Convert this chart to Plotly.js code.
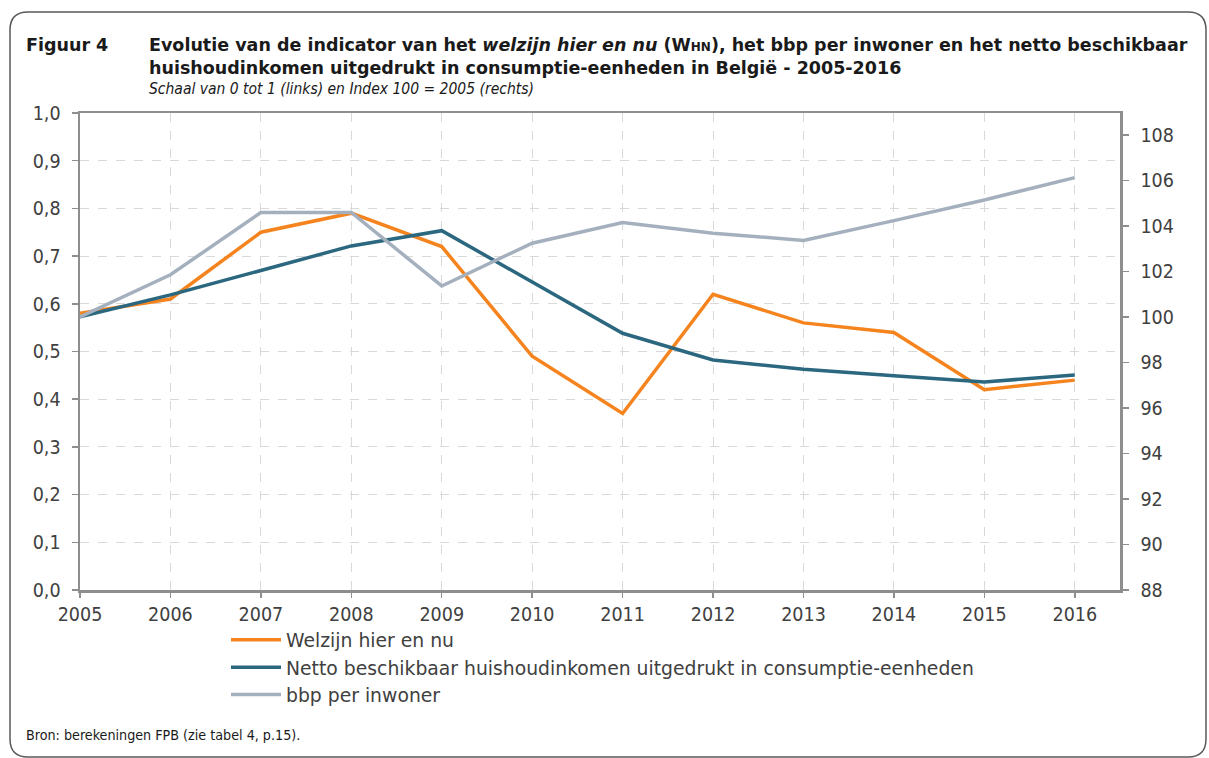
<!DOCTYPE html>
<html>
<head>
<meta charset="utf-8">
<script src="https://cdn.plot.ly/plotly-3.0.1.min.js"></script>
<style>html,body{margin:0;padding:0;background:#fff;}#chart{width:1209px;height:758px;}</style>
</head>
<body>
<div id="chart"></div>
<script>
// ---- data ----
const years = [2005, 2006, 2007, 2008, 2009, 2010, 2011, 2012, 2013, 2014, 2015, 2016];
const welzijn = [0.58, 0.61, 0.75, 0.79, 0.72, 0.49, 0.37, 0.62, 0.56, 0.54, 0.42, 0.44];
const inkomen = [100.0, 100.97, 102.04, 103.12, 103.79, 101.55, 99.28, 98.11, 97.70, 97.41, 97.14, 97.45];
const bbp = [100.0, 101.85, 104.59, 104.59, 101.36, 103.24, 104.15, 103.68, 103.36, 104.23, 105.14, 106.12];
const seriesNames = ["Welzijn hier en nu",
  "Netto beschikbaar huishoudinkomen uitgedrukt in consumptie-eenheden",
  "bbp per inwoner"];

// ---- layout helpers (pixel -> paper) ----
const W = 1209, H = 758;
const L = 80, R = 1120, T = 113, B = 590;
const px = x => (x - L) / (R - L);
const py = y => (B - y) / (B - T);

const condensed = "DejaVu Sans Condensed, DejaVu Sans, sans-serif";
const tahomaLike = "DejaVu Sans, sans-serif";

const traces = [
  {x: years, y: welzijn, name: seriesNames[0], type: "scatter", mode: "lines",
   line: {color: "#F5841F", width: 3.5}, yaxis: "y"},
  {x: years, y: inkomen, name: seriesNames[1], type: "scatter", mode: "lines",
   line: {color: "#2B6880", width: 3.5}, yaxis: "y2"},
  {x: years, y: bbp, name: seriesNames[2], type: "scatter", mode: "lines",
   line: {color: "#A5B0BF", width: 3.5}, yaxis: "y2"}
];

// rounded frame
const x0 = px(10), x1 = px(1206), y0 = py(12), y1 = py(757);
const rx = 18 / (R - L), ry = 18 / (B - T);
const framePath = `M ${x0 + rx},${y0} L ${x1 - rx},${y0} Q ${x1},${y0} ${x1},${y0 - ry} ` +
  `L ${x1},${y1 + ry} Q ${x1},${y1} ${x1 - rx},${y1} L ${x0 + rx},${y1} Q ${x0},${y1} ${x0},${y1 + ry} ` +
  `L ${x0},${y0 - ry} Q ${x0},${y0} ${x0 + rx},${y0} Z`;

const layout = {
  width: W, height: H,
  margin: {l: L, r: W - R, t: T, b: H - B, pad: 0},
  paper_bgcolor: "#ffffff", plot_bgcolor: "#ffffff",
  separators: ",.",
  showlegend: true,
  font: {family: condensed, color: "#404040"},
  xaxis: {
    range: [2005, 2016.5], tick0: 2005, dtick: 1, tickmode: "linear",
    showline: true, linecolor: "#8E8E8E", linewidth: 2.5, mirror: true,
    showgrid: true, gridcolor: "#D9D9D9", griddash: "dash", gridwidth: 1,
    ticks: "outside", ticklen: 5, tickcolor: "#8E8E8E", tickwidth: 1.5,
    tickfont: {family: condensed, size: 19.5, color: "#404040"},
    zeroline: false, fixedrange: true
  },
  yaxis: {
    range: [0, 1], tick0: 0, dtick: 0.1, tickmode: "linear", tickformat: ".1f",
    showline: true, linecolor: "#8E8E8E", linewidth: 2.5, mirror: false,
    showgrid: true, gridcolor: "#D9D9D9", griddash: "dash", gridwidth: 1,
    ticks: "outside", ticklen: 6, tickcolor: "#8E8E8E", tickwidth: 1.5,
    ticklabelstandoff: 7,
    tickfont: {family: condensed, size: 19.5, color: "#404040"},
    zeroline: false, fixedrange: true
  },
  yaxis2: {
    overlaying: "y", side: "right",
    range: [88, 108.96], tick0: 88, dtick: 2, tickmode: "linear",
    showline: true, linecolor: "#8E8E8E", linewidth: 2.5,
    showgrid: false,
    ticks: "outside", ticklen: 6, tickcolor: "#8E8E8E", tickwidth: 1.5,
    ticklabelstandoff: 8,
    tickfont: {family: condensed, size: 19.5, color: "#404040"},
    zeroline: false, fixedrange: true
  },
  legend: {
    x: px(226), y: py(621), xanchor: "left", yanchor: "top",
    orientation: "v", bgcolor: "rgba(0,0,0,0)",
    font: {family: tahomaLike, size: 18.8, color: "#404040"},
    tracegroupgap: 0, itemwidth: 50
  },
  shapes: [
    {type: "path", xref: "paper", yref: "paper", path: framePath,
     line: {color: "#595959", width: 1.5}, fillcolor: "rgba(0,0,0,0)", layer: "below"}
  ],
  annotations: [
    {xref: "paper", yref: "paper", x: px(24), y: py(45), xanchor: "left", yanchor: "middle",
     showarrow: false, text: "<b>Figuur 4</b>",
     font: {family: tahomaLike, size: 17.5, color: "#1a1a1a"}},
    {xref: "paper", yref: "paper", x: px(147), y: py(56), xanchor: "left", yanchor: "middle",
     showarrow: false, align: "left",
     text: "<b>Evolutie van de indicator van het <i>welzijn hier en nu</i> (W<span style='font-size:12px'>HN</span>), het bbp per inwoner en het netto beschikbaar<br>huishoudinkomen uitgedrukt in consumptie-eenheden in België - 2005-2016</b>",
     font: {family: tahomaLike, size: 17.5, color: "#1a1a1a"}},
    {xref: "paper", yref: "paper", x: px(147), y: py(89), xanchor: "left", yanchor: "middle",
     showarrow: false, text: "<i>Schaal van 0 tot 1 (links) en Index 100 = 2005 (rechts)</i>",
     font: {family: condensed, size: 15.5, color: "#1a1a1a"}},
    {xref: "paper", yref: "paper", x: px(24), y: py(735), xanchor: "left", yanchor: "middle",
     showarrow: false, text: "Bron: berekeningen FPB (zie tabel 4, p.15).",
     font: {family: condensed, size: 14.2, color: "#1a1a1a"}}
  ]
};

Plotly.newPlot("chart", traces, layout, {staticPlot: true, displayModeBar: false});
</script>
</body>
</html>
